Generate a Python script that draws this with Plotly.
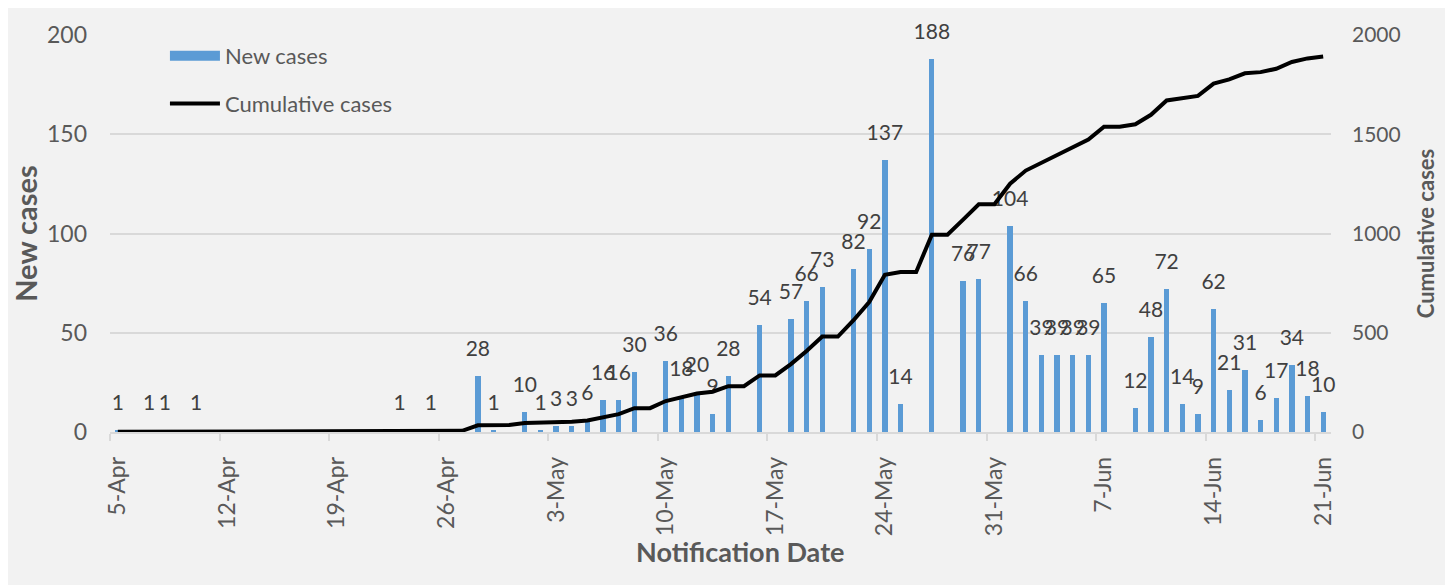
import plotly.graph_objects as go

# ---- data ----
dates = ["5-Apr","6-Apr","7-Apr","8-Apr","9-Apr","10-Apr","11-Apr","12-Apr","13-Apr","14-Apr",
         "15-Apr","16-Apr","17-Apr","18-Apr","19-Apr","20-Apr","21-Apr","22-Apr","23-Apr","24-Apr",
         "25-Apr","26-Apr","27-Apr","28-Apr","29-Apr","30-Apr","1-May","2-May","3-May","4-May",
         "5-May","6-May","7-May","8-May","9-May","10-May","11-May","12-May","13-May","14-May",
         "15-May","16-May","17-May","18-May","19-May","20-May","21-May","22-May","23-May","24-May",
         "25-May","26-May","27-May","28-May","29-May","30-May","31-May","1-Jun","2-Jun","3-Jun",
         "4-Jun","5-Jun","6-Jun","7-Jun","8-Jun","9-Jun","10-Jun","11-Jun","12-Jun","13-Jun",
         "14-Jun","15-Jun","16-Jun","17-Jun","18-Jun","19-Jun","20-Jun","21-Jun"]

new_cases = [1, 0, 1, 1, 0, 1, 0, 0, 0, 0,
             0, 0, 0, 0, 0, 0, 0, 0, 1, 0,
             1, 0, 0, 28, 1, 0, 10, 1, 3, 3,
             6, 16, 16, 30, 0, 36, 18, 20, 9, 28,
             0, 54, 0, 57, 66, 73, 0, 82, 92, 137,
             14, 0, 188, 0, 76, 77, 0, 104, 66, 39,
             39, 39, 39, 65, 0, 12, 48, 72, 14, 9,
             62, 21, 31, 6, 17, 34, 18, 10]

cumulative_cases = [1, 1, 2, 3, 3, 4, 4, 4, 4, 4,
                    4, 4, 4, 4, 4, 4, 4, 4, 5, 5,
                    6, 6, 6, 34, 35, 35, 45, 46, 49, 52,
                    58, 74, 90, 120, 120, 156, 174, 194, 203, 231,
                    231, 285, 285, 342, 408, 481, 481, 563, 655, 792,
                    806, 806, 994, 994, 1070, 1147, 1147, 1251, 1317, 1356,
                    1395, 1434, 1473, 1538, 1538, 1550, 1598, 1670, 1684, 1693,
                    1755, 1776, 1807, 1813, 1830, 1864, 1882, 1892]

tick_labels = ["5-Apr", "12-Apr", "19-Apr", "26-Apr", "3-May", "10-May",
               "17-May", "24-May", "31-May", "7-Jun", "14-Jun", "21-Jun"]

# ---- figure ----
idx = list(range(len(dates)))
tick_pos = [dates.index(t) for t in tick_labels]
boundary_pos = [p - 0.5 for p in tick_pos]
bar_text = [str(v) if v > 0 else "" for v in new_cases]

FONT = "Lato, Calibri, Carlito, 'Open Sans', sans-serif"
GREY = "#595959"
BLUE = "#5b9bd5"

fig = go.Figure()
fig.add_trace(go.Bar(
    x=idx, y=new_cases, name="New cases", showlegend=False,
    marker=dict(color=BLUE, line=dict(width=0)),
    width=0.34, hovertext=dates,
))
# data labels above the bars
fig.add_trace(go.Scatter(
    x=idx, y=new_cases, mode="markers+text", showlegend=False,
    text=bar_text, textposition="top center", cliponaxis=False,
    textfont=dict(size=21, color="#404040", family=FONT),
    marker=dict(size=22, opacity=0), hoverinfo="skip",
))
# legend key for the bars (wide blue block, as in the reference)
fig.add_trace(go.Scatter(
    x=[None], y=[None], name="New cases", mode="lines",
    line=dict(color=BLUE, width=13), legendgroup="a", hoverinfo="skip",
))
fig.add_trace(go.Scatter(
    x=idx, y=cumulative_cases, name="Cumulative cases", yaxis="y2",
    mode="lines", line=dict(color="black", width=4),
    hovertext=dates, legendgroup="b",
))

fig.update_layout(
    width=1445, height=577,
    margin=dict(l=102, r=122, t=20, b=153),
    paper_bgcolor="#f2f2f2",
    plot_bgcolor="rgba(0,0,0,0)",
    font=dict(family=FONT, color=GREY),
    showlegend=True,
    legend=dict(x=0.045, y=1.0, xanchor="left", yanchor="top",
                bgcolor="rgba(0,0,0,0)", font=dict(size=22, color=GREY),
                traceorder="grouped", tracegroupgap=16, itemwidth=50),
    xaxis=dict(
        range=[-0.5, 77.5],
        tickmode="array", tickvals=tick_pos, ticktext=tick_labels,
        tickangle=-90, ticks="", ticklabelstandoff=14,
        tickfont=dict(size=23, color=GREY),
        showgrid=False, zeroline=False,
        showline=True, linecolor="#d9d9d9", linewidth=1.5,
        minor=dict(tickmode="array", tickvals=boundary_pos, ticks="outside",
                   ticklen=7, tickcolor="#d9d9d9", tickwidth=1.5, showgrid=False),
    ),
    yaxis=dict(
        range=[0, 200], dtick=50, tickfont=dict(size=23, color=GREY),
        showgrid=True, gridcolor="#d9d9d9", gridwidth=1.5, zeroline=False,
        ticks="", ticklabelstandoff=22,
        title=dict(text="<b>New cases</b>", font=dict(size=29, color=GREY), standoff=2),
    ),
    yaxis2=dict(
        range=[0, 2000], dtick=500, overlaying="y", side="right",
        tickfont=dict(size=21, color=GREY), showgrid=False, zeroline=False,
        ticks="", ticklabelstandoff=20,
        title=dict(text="<b>Cumulative cases</b>", font=dict(size=22, color=GREY), standoff=18),
    ),
    annotations=[dict(text="<b>Notification Date</b>", xref="paper", yref="paper",
                      x=0.516, y=-0.30, xanchor="center", yanchor="middle",
                      showarrow=False, font=dict(size=27, color=GREY))],
    bargap=0,
)

fig.write_html("out.html")
